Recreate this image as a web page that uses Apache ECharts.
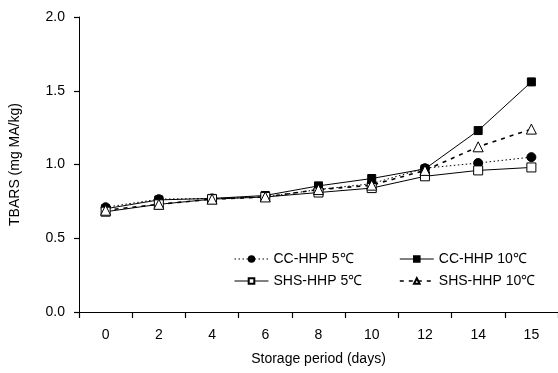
<!DOCTYPE html>
<html>
<head>
<meta charset="utf-8">
<script src="https://cdn.jsdelivr.net/npm/echarts@6/dist/echarts.min.js"></script>
<style>
  html, body { margin: 0; padding: 0; background: #fff; }
  #chart { width: 558px; height: 373px; }
</style>
</head>
<body>
<div id="chart"></div>
<script>
// storage days (category axis)
const days = ['0', '2', '4', '6', '8', '10', '12', '14', '15']
const yTicks = [0, 0.5, 1.0, 1.5, 2.0]

// TBARS values (mg MA/kg)
const cc5 = [0.71, 0.765, 0.77, 0.78, 0.83, 0.87, 0.975, 1.01, 1.05]
const cc10 = [0.70, 0.76, 0.77, 0.79, 0.855, 0.905, 0.97, 1.23, 1.56]
const shs5 = [0.68, 0.73, 0.765, 0.78, 0.81, 0.84, 0.92, 0.96, 0.98]
const shs10 = [0.69, 0.73, 0.765, 0.78, 0.83, 0.86, 0.96, 1.12, 1.24]

const font = 'Liberation Sans, Arial, sans-serif'
const txt = { color: '#000', fontFamily: font, fontSize: 14 }

function mkSeries (name, data, symbol, size, fill, lineType, lineWidth) {
  return {
    name: name,
    type: 'line',
    data: data,
    symbol: symbol,
    symbolSize: size,
    showAllSymbol: true,
    itemStyle: { color: fill, borderColor: '#000', borderWidth: 1 },
    lineStyle: { color: '#000', width: lineWidth, type: lineType },
    emphasis: { disabled: true }
  }
}

const chart = echarts.init(document.getElementById('chart'))
chart.setOption({
  animation: false,
  backgroundColor: '#fff',
  grid: { left: 78, right: -3, top: 17, bottom: 61 },
  legend: [
    {
      left: 229, top: 247, orient: 'vertical', itemGap: 8,
      itemWidth: 34, itemHeight: 7,
      textStyle: txt,
      lineStyle: { width: 1 },
      data: ['CC-HHP 5℃', 'SHS-HHP 5℃']
    },
    {
      left: 394, top: 247, orient: 'vertical', itemGap: 8,
      itemWidth: 34, itemHeight: 7,
      textStyle: txt,
      lineStyle: { width: 1 },
      data: ['CC-HHP 10℃', { name: 'SHS-HHP 10℃', lineStyle: { width: 1.6 } }]
    }
  ],
  xAxis: {
    type: 'category',
    data: days,
    boundaryGap: true,
    name: 'Storage period (days)',
    nameLocation: 'middle',
    nameGap: 40,
    nameTextStyle: txt,
    axisLine: { lineStyle: { color: '#000', width: 1 } },
    axisTick: { show: true, interval: 0, length: 6, lineStyle: { color: '#000', width: 1.2 } },
    axisLabel: Object.assign({ margin: 16, interval: 0 }, txt),
    splitLine: { show: false }
  },
  yAxis: {
    type: 'value',
    min: yTicks[0],
    max: yTicks[yTicks.length - 1],
    interval: 0.5,
    name: 'TBARS (mg MA/kg)',
    nameLocation: 'middle',
    nameGap: 57,
    nameTextStyle: txt,
    axisLine: { show: true, lineStyle: { color: '#000', width: 1 } },
    axisTick: { show: true, length: 5, lineStyle: { color: '#000', width: 1.2 } },
    axisLabel: Object.assign({ margin: 14, formatter: v => v.toFixed(1) }, txt),
    splitLine: { show: false }
  },
  series: [
    mkSeries('CC-HHP 5℃', cc5, 'circle', 9, '#000', [1.5, 2.5], 1),
    mkSeries('CC-HHP 10℃', cc10, 'rect', 8, '#000', 'solid', 1),
    mkSeries('SHS-HHP 5℃', shs5, 'rect', 9, '#fff', 'solid', 1),
    mkSeries('SHS-HHP 10℃', shs10, 'triangle', 10, '#fff', [4, 5], 1.6)
  ]
})
</script>
</body>
</html>
